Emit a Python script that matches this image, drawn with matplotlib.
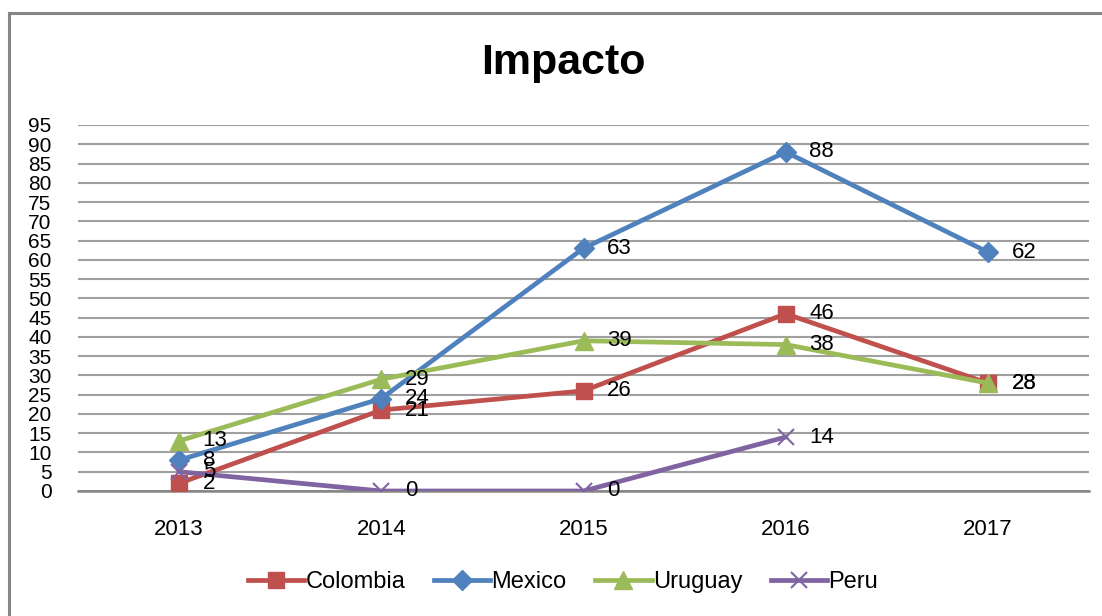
import numpy as np
import matplotlib.pyplot as plt
from matplotlib.lines import Line2D

years = ["2013", "2014", "2015", "2016", "2017"]
colombia = [2, 21, 26, 46, 28]
mexico = [8, 24, 63, 88, 62]
uruguay = [13, 29, 39, 38, 28]
peru = [5, 0, 0, 14, None]

series = [
    ("Colombia", colombia, "#C0504D", "s", 12),
    ("Mexico", mexico, "#4F81BD", "D", 10),
    ("Uruguay", uruguay, "#9BBB59", "^", 13),
    ("Peru", peru, "#8064A2", "x", 12),
]

plt.rcParams['font.family'] = ['Liberation Sans', 'DejaVu Sans']

fig = plt.figure(figsize=(11.02, 6.16), dpi=100)
W, H = 1102, 616
ax = fig.add_axes([78 / W, (H - 491) / H, (1089 - 78) / W, (491 - 125) / H])

# outer chart border (left and top only visible)
fig.add_artist(Line2D([9 / W, 9 / W], [0, 1 - 13 / H], transform=fig.transFigure,
                      color="#868686", lw=2.2))
fig.add_artist(Line2D([9 / W, 1], [1 - 13 / H, 1 - 13 / H], transform=fig.transFigure,
                      color="#868686", lw=2.2))

x = np.arange(len(years))
handles = []
for name, vals, col, mk, ms in series:
    xs = [i for i, v in zip(x, vals) if v is not None]
    ys = [v for v in vals if v is not None]
    mew = 1.5 if mk == "x" else 1
    (h,) = ax.plot(xs, ys, color=col, lw=3.4, marker=mk, markersize=ms,
                   markeredgewidth=mew, markeredgecolor=col, label=name, zorder=3)
    handles.append(h)
    for xi, yi in zip(xs, ys):
        ax.annotate(str(yi), (xi, yi), xytext=(17, 0), textcoords="offset points",
                    fontsize=16, va="center", ha="left", zorder=4)

ax.set_xlim(-0.5, 4.5)
ax.set_ylim(0, 95)
ax.set_yticks(range(0, 100, 5))
ax.set_xticks(x)
ax.set_xticklabels(years)
ax.tick_params(axis="y", length=0, labelsize=15, pad=19)
ax.tick_params(axis="x", length=0, labelsize=16, pad=20)
ax.grid(axis="y", color="#a0a0a0", lw=1.5, zorder=0)
for s in ["top", "right", "left"]:
    ax.spines[s].set_visible(False)
ax.spines["bottom"].set_color("#868686")
ax.spines["bottom"].set_linewidth(1.8)
ax.set_axisbelow(True)

fig.text(563 / W, 1 - 63 / H, "Impacto", fontsize=31, fontweight="bold",
         ha="center", va="center")

fig.legend(handles=handles, loc="center", bbox_to_anchor=(563 / W, 1 - 582 / H),
           ncol=4, frameon=False, fontsize=17, handlelength=2.4, handletextpad=0.05,
           columnspacing=1.2)

fig.savefig("out.png", dpi=100)
